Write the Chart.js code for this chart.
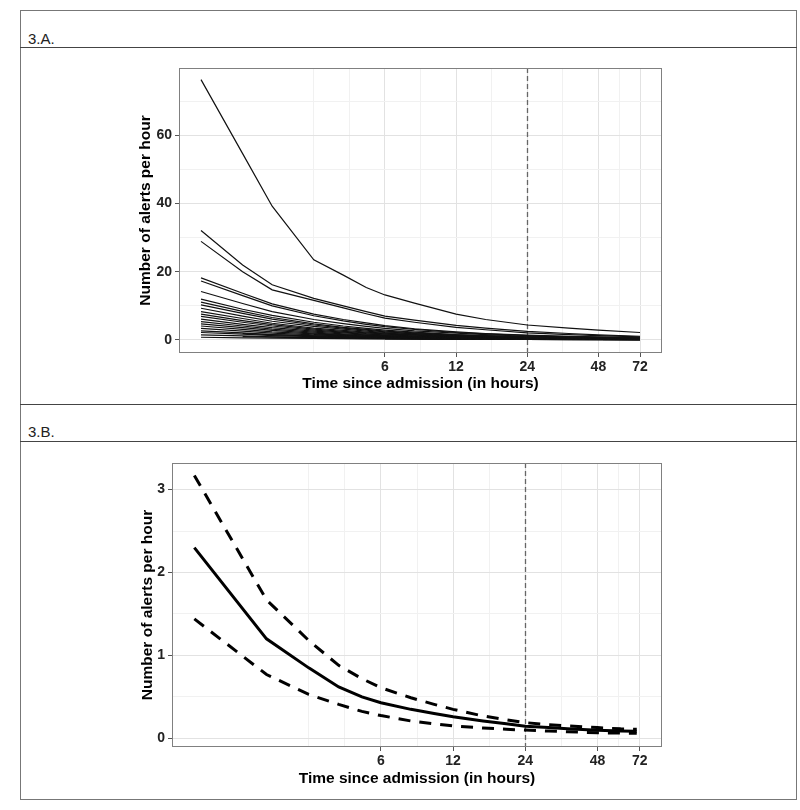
<!DOCTYPE html>
<html>
<head>
<meta charset="utf-8">
<script src="https://cdn.jsdelivr.net/npm/chart.js@4.4.1/dist/chart.umd.min.js"></script>
<style>
  html, body { margin: 0; padding: 0; background: #fff; }
  body { width: 800px; height: 810px; position: relative; font-family: "Liberation Sans", Arial, sans-serif; }
  .frame { position: absolute; left: 20px; top: 10px; width: 777px; height: 790px; border: 1px solid #777; box-sizing: border-box; }
  .rule { position: absolute; left: 20px; width: 777px; height: 1px; background: #444; }
  .label { position: absolute; left: 28px; font-size: 15px; line-height: 17px; color: #222; }
  canvas { position: absolute; left: 0; }
</style>
</head>
<body>
<div class="frame"></div>
<div class="rule" style="top:47px"></div>
<div class="rule" style="top:404px"></div>
<div class="rule" style="top:441px"></div>
<div class="label" style="top:30px">3.A.</div>
<div class="label" style="top:423px">3.B.</div>
<canvas id="chartA" width="800" height="356" style="top:48px"></canvas>
<canvas id="chartB" width="800" height="356" style="top:443px"></canvas>

<script>
// --- data ---
// panel A: one line per patient, hours since admission
const hoursA = [1, 1.5, 2, 3, 4, 5, 6, 8, 12, 16, 24, 36, 48, 72];
const patientRates = [
    [76.3, 54.6, 39.2, 23.5, 19.0, 15.4, 13.2, 10.8, 7.6, 6.0, 4.4, 3.5, 2.9, 2.2],
    [32.1, 22.0, 16.2, 12.2, 10.0, 8.3, 7.0, 5.8, 4.3, 3.5, 2.5, 1.9, 1.5, 1.1],
    [28.9, 20.0, 14.7, 11.6, 9.4, 7.7, 6.4, 5.2, 3.7, 3.0, 2.1, 1.6, 1.3, 0.9],
    [18.2, 13.7, 10.6, 7.6, 6.0, 5.0, 4.2, 3.3, 2.4, 1.9, 1.4, 1.1, 0.9, 0.7],
    [17.3, 13.0, 10.0, 7.1, 5.6, 4.6, 3.9, 3.1, 2.2, 1.8, 1.3, 1.0, 0.8, 0.6],
    [14.2, 10.7, 8.3, 6.0, 4.8, 4.0, 3.4, 2.7, 2.0, 1.6, 1.1, 0.9, 0.7, 0.5],
    [12.0, 9.0, 7.2, 5.2, 4.1, 3.4, 2.9, 2.3, 1.6, 1.3, 0.95, 0.75, 0.6, 0.45],
    [11.1, 8.4, 6.6, 4.7, 3.7, 3.1, 2.6, 2.1, 1.5, 1.2, 0.85, 0.7, 0.55, 0.4],
    [10.3, 7.8, 6.1, 4.4, 3.5, 2.9, 2.4, 1.9, 1.4, 1.1, 0.8, 0.65, 0.5, 0.4],
    [9.3, 7.0, 5.5, 4.0, 3.2, 2.6, 2.2, 1.8, 1.3, 1.0, 0.75, 0.6, 0.45, 0.35],
    [8.3, 6.3, 4.9, 3.5, 2.8, 2.3, 2.0, 1.6, 1.2, 0.95, 0.7, 0.55, 0.45, 0.35],
    [7.6, 5.7, 4.5, 3.2, 2.5, 2.1, 1.8, 1.5, 1.1, 0.9, 0.65, 0.5, 0.4, 0.3],
    [6.9, 5.2, 4.1, 2.9, 2.3, 1.9, 1.7, 1.4, 1.0, 0.8, 0.6, 0.5, 0.4, 0.3],
    [6.1, 4.6, 3.6, 2.6, 2.1, 1.7, 1.5, 1.2, 0.9, 0.75, 0.55, 0.45, 0.35, 0.28],
    [5.4, 4.1, 3.2, 2.3, 1.8, 1.5, 1.3, 1.1, 0.8, 0.65, 0.5, 0.4, 0.32, 0.25],
    [4.7, 3.6, 2.8, 2.0, 1.6, 1.35, 1.2, 0.95, 0.7, 0.6, 0.45, 0.35, 0.3, 0.22],
    [4.1, 3.1, 2.4, 1.8, 1.4, 1.15, 1.0, 0.85, 0.65, 0.5, 0.4, 0.32, 0.27, 0.2],
    [3.4, 2.6, 2.0, 1.5, 1.2, 1.0, 0.85, 0.7, 0.55, 0.45, 0.35, 0.28, 0.23, 0.18],
    [2.7, 2.1, 1.6, 1.2, 0.95, 0.8, 0.7, 0.6, 0.45, 0.38, 0.3, 0.24, 0.2, 0.15],
    [2.2, 1.7, 1.3, 1.0, 0.8, 0.7, 0.6, 0.5, 0.4, 0.32, 0.26, 0.2, 0.17, 0.13],
    [1.5, 1.2, 0.95, 0.75, 0.6, 0.52, 0.45, 0.4, 0.3, 0.26, 0.2, 0.17, 0.14, 0.11],
    [0.8, 0.65, 0.55, 0.45, 0.38, 0.33, 0.3, 0.26, 0.2, 0.17, 0.14, 0.12, 0.1, 0.08],
    [null, 1.9, 1.6, 1.2, 1.0, 0.85, 0.75, 0.6, 0.45, 0.38, 0.3, 0.24, 0.2, 0.16],
    [null, 1.0, 0.85, 0.65, 0.55, 0.48, 0.42, 0.35, 0.28, 0.23, 0.18, 0.15, 0.12, 0.1],
    [null, null, null, 1.6, 1.3, 1.1, 0.95, 0.8, 0.6, 0.5, 0.38, 0.3, 0.25, 0.2],
    [null, null, null, 0.9, 0.75, 0.63, 0.55, 0.45, 0.35, 0.3, 0.24, 0.19, 0.16, 0.13],
    [null, null, null, null, null, 1.35, 1.2, 1.0, 0.75, 0.6, 0.45, 0.36, 0.3, 0.24],
    [null, null, null, null, null, 0.7, 0.6, 0.5, 0.38, 0.32, 0.25, 0.2, 0.16, 0.13],
    [null, null, null, null, null, null, 0.35, 0.3, 0.24, 0.2, 0.16, 0.13, 0.11, 0.09]
];

// panel B: fitted rate with 95% band
const hoursB = [1, 2, 3, 4, 5, 6, 8, 10, 12, 16, 20, 24, 30, 36, 48, 60, 70];
const meanRate = [2.30, 1.20, 0.85, 0.62, 0.50, 0.43, 0.35, 0.30, 0.26, 0.21, 0.175, 0.145, 0.13, 0.115, 0.098, 0.09, 0.085];
const upperCI = [3.17, 1.67, 1.18, 0.88, 0.72, 0.61, 0.49, 0.41, 0.35, 0.27, 0.225, 0.19, 0.165, 0.15, 0.13, 0.115, 0.11];
const lowerCI = [1.44, 0.77, 0.53, 0.41, 0.325, 0.275, 0.21, 0.175, 0.15, 0.125, 0.11, 0.10, 0.088, 0.08, 0.068, 0.064, 0.062];

const xTickLabels = [6, 12, 24, 48, 72];
const xMinorBreaks = [3, 4.243, 8.485, 16.97, 33.94, 58.79];
const yTicksA = [0, 20, 40, 60];
const yMinorA = [10, 30, 50, 70];
const yTicksB = [0, 1, 2, 3];
const yMinorB = [0.5, 1.5, 2.5];
const CUTOFF_HOUR = 24;

const FONT = '"Liberation Sans", Arial, sans-serif';

function toPoints(xs, ys) {
    return xs.map((x, i) => ({ x: x, y: ys[i] }));
}

// dashed line at 24h and grey panel border
const panelDecor = {
    id: 'panelDecor',
    beforeDatasetsDraw(chart) {
        const { ctx, chartArea: a } = chart;
        const px = Math.round(chart.scales.x.getPixelForValue(CUTOFF_HOUR)) + 0.5;
        ctx.save();
        ctx.strokeStyle = '#666';
        ctx.lineWidth = 1.3;
        ctx.setLineDash([5, 3]);
        ctx.beginPath();
        ctx.moveTo(px, a.top);
        ctx.lineTo(px, a.bottom);
        ctx.stroke();
        ctx.restore();
    },
    afterDatasetsDraw(chart) {
        const { ctx, chartArea: a } = chart;
        ctx.save();
        ctx.strokeStyle = '#808080';
        ctx.lineWidth = 1;
        ctx.strokeRect(a.left + 0.5, a.top + 0.5, a.right - a.left - 1, a.bottom - a.top - 1);
        ctx.restore();
    }
};

function gridOpts(majors) {
    const isMajor = c => c.tick && majors.includes(c.tick.value);
    return {
        color: c => isMajor(c) ? '#e2e2e2' : '#f1f1f1',
        lineWidth: 1,
        tickLength: 4,
        tickColor: c => isMajor(c) ? '#555' : 'rgba(0,0,0,0)'
    };
}

function xScale(axisHeight) {
    return {
        type: 'logarithmic',
        min: 0.807,
        max: 89.2,
        afterBuildTicks: s => {
            s.ticks = xMinorBreaks.concat(xTickLabels).sort((a, b) => a - b).map(v => ({ value: v }));
        },
        afterFit: s => { s.height = axisHeight; },
        grid: gridOpts(xTickLabels),
        border: { display: false },
        ticks: {
            autoSkip: false,
            maxRotation: 0,
            padding: 2,
            color: '#222',
            font: { family: FONT, size: 14, weight: 'bold' },
            callback: v => xTickLabels.includes(v) ? String(v) : ''
        },
        title: {
            display: true,
            text: 'Time since admission (in hours)',
            color: '#000',
            font: { family: FONT, size: 15.5, weight: 'bold' },
            padding: { top: 0, bottom: 11 }
        }
    };
}

function yScale(min, max, majors, minors, axisWidth, titlePad) {
    return {
        type: 'linear',
        min: min,
        max: max,
        afterBuildTicks: s => {
            s.ticks = majors.concat(minors).sort((a, b) => a - b).map(v => ({ value: v }));
        },
        afterFit: s => { s.width = axisWidth; },
        grid: gridOpts(majors),
        border: { display: false },
        ticks: {
            autoSkip: false,
            padding: 3,
            color: '#222',
            font: { family: FONT, size: 14, weight: 'bold' },
            callback: v => majors.includes(v) ? String(v) : ''
        },
        title: {
            display: true,
            text: 'Number of alerts per hour',
            color: '#000',
            font: { family: FONT, size: 15.5, weight: 'bold' },
            padding: { top: titlePad, bottom: 0 }
        }
    };
}

function baseOptions(x, y) {
    return {
        responsive: false,
        animation: false,
        devicePixelRatio: 1,
        layout: { padding: { left: 0, top: 20, right: 138, bottom: 0 } },
        plugins: { legend: { display: false }, tooltip: { enabled: false } },
        elements: { point: { radius: 0 }, line: { tension: 0 } },
        scales: { x: x, y: y }
    };
}

// panel A
const datasetsA = patientRates.map(rates => ({
    data: toPoints(hoursA, rates),
    borderColor: '#111',
    borderWidth: 1.2,
    fill: false
}));

new Chart(document.getElementById('chartA'), {
    type: 'line',
    data: { datasets: datasetsA },
    options: baseOptions(xScale(51), yScale(-3.81, 79.7, yTicksA, yMinorA, 179, 136.7)),
    plugins: [panelDecor]
});

// panel B
new Chart(document.getElementById('chartB'), {
    type: 'line',
    data: {
        datasets: [
            { data: toPoints(hoursB, meanRate), borderColor: '#000', borderWidth: 3, fill: false },
            { data: toPoints(hoursB, upperCI), borderColor: '#000', borderWidth: 3, borderDash: [12, 9], fill: false },
            { data: toPoints(hoursB, lowerCI), borderColor: '#000', borderWidth: 3, borderDash: [12, 9], fill: false }
        ]
    },
    options: baseOptions(xScale(52), yScale(-0.104, 3.32, yTicksB, yMinorB, 172, 138.7)),
    plugins: [panelDecor]
});
</script>
</body>
</html>
